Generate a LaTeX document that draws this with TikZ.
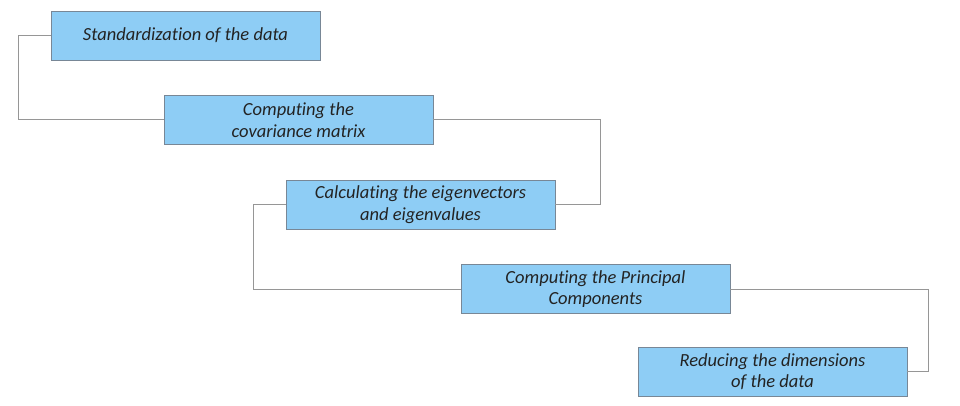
\documentclass[tikz,border=0pt]{standalone}
\usepackage{fontspec}
\setmainfont{Carlito}[Ligatures=NoCommon]
\begin{document}
\begin{tikzpicture}[x=1pt,y=-1pt,
  stepbox/.style={draw=boxedge, fill=boxfill, line width=0.8pt, minimum width=269pt, minimum height=49pt, inner sep=2pt, align=center, font=\fontsize{18.5}{21.5}\selectfont\itshape, text=textgray},
  link/.style={draw=linkgray, line width=1pt}]
\definecolor{boxfill}{RGB}{142,205,245}
\definecolor{boxedge}{RGB}{120,135,150}
\definecolor{linkgray}{RGB}{150,150,150}
\definecolor{textgray}{RGB}{35,35,35}
\useasboundingbox (0,0) rectangle (960,406);
\fill[white] (0,0) rectangle (960,406);
\node[stepbox] (s1) at (185.5,35.5) {Standardization of the data};
\node[stepbox] (s2) at (298.5,120) {Computing the\\covariance matrix};
\node[stepbox] (s3) at (420.5,204.5) {Calculating the eigenvectors\\and eigenvalues};
\node[stepbox] (s4) at (595.5,289) {Computing the Principal\\Components};
\node[stepbox] (s5) at (772.5,371.5) {Reducing the dimensions\\of the data};
\draw[link] (s1.west) -- ++(-32,0) |- (s2.west);
\draw[link] (s2.east) -- ++(167,0) |- (s3.east);
\draw[link] (s3.west) -- ++(-32,0) |- (s4.west);
\draw[link] (s4.east) -- ++(198,0) |- (s5.east);
\end{tikzpicture}
\end{document}
